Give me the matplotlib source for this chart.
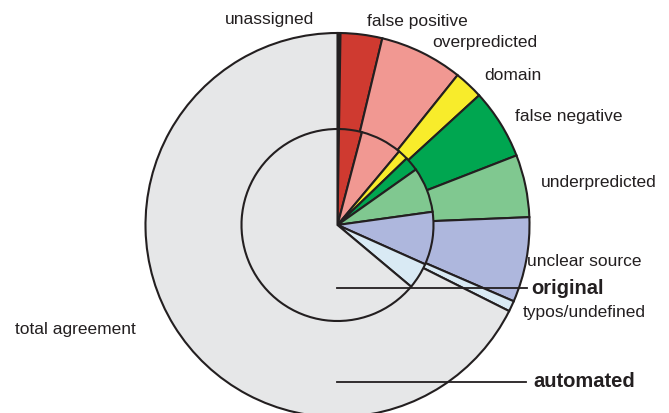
import matplotlib
matplotlib.use("Agg")
import matplotlib.pyplot as plt

# ---- data (percent of all cases) ----
categories = ["unassigned", "false positive", "overpredicted", "domain",
              "false negative", "underpredicted", "unclear source",
              "typos/undefined", "total agreement"]
automated_values = [0.25, 3.5, 7.0, 2.45, 5.9, 5.25, 7.15, 0.9, 67.6]
original_values = [0.25, 3.85, 7.0, 1.7, 2.4, 7.6, 8.9, 4.4, 63.9]
colors = ["#231F20", "#CF3A30", "#F19892", "#F8EC2B", "#00A650",
          "#80C890", "#AEB7DD", "#D9EAF4", "#E6E7E8"]

W, H = 669, 414
fig = plt.figure(figsize=(W / 100, H / 100), dpi=100)
ax = fig.add_axes([0, 0, 1, 1])

cx, cy = 337.5, H - 226
R_out, R_in = 192, 96
wp = dict(edgecolor="#231F20", linewidth=1.5, joinstyle="miter")

ax.pie(automated_values, colors=colors, radius=R_out, center=(cx, cy),
       startangle=90, counterclock=False, wedgeprops=wp, frame=True)
ax.pie(original_values, colors=colors, radius=R_in, center=(cx, cy),
       startangle=90, counterclock=False, wedgeprops=wp, frame=True)

ax.set_xlim(0, W)
ax.set_ylim(0, H)
ax.set_aspect("equal")
ax.set_axis_off()

font = "Liberation Sans"
fs = 12.5
fs_bold = 14.5
# leader lines for the two rings
ax.plot([cx, 527], [H - 289, H - 289], color="#231F20", lw=1.3)
ax.plot([cx, 526], [H - 383, H - 383], color="#231F20", lw=1.3)

labels = [
    ("unassigned", 314, 19, "right", "normal"),
    ("false positive", 367, 21, "left", "normal"),
    ("overpredicted", 432, 42, "left", "normal"),
    ("domain", 484, 75, "left", "normal"),
    ("false negative", 515, 117, "left", "normal"),
    ("underpredicted", 541, 182, "left", "normal"),
    ("unclear source", 527, 262, "left", "normal"),
    ("original", 531, 289, "left", "bold"),
    ("typos/undefined", 523, 312, "left", "normal"),
    ("total agreement", 15, 330, "left", "normal"),
    ("automated", 533, 382, "left", "bold"),
]
for txt, x, y, ha, wt in labels:
    ax.text(x, H - y, txt, ha=ha, va="center",
            fontsize=fs_bold if wt == "bold" else fs, family=font,
            fontweight=wt, color="#231F20")

fig.savefig("out.png", dpi=100)
